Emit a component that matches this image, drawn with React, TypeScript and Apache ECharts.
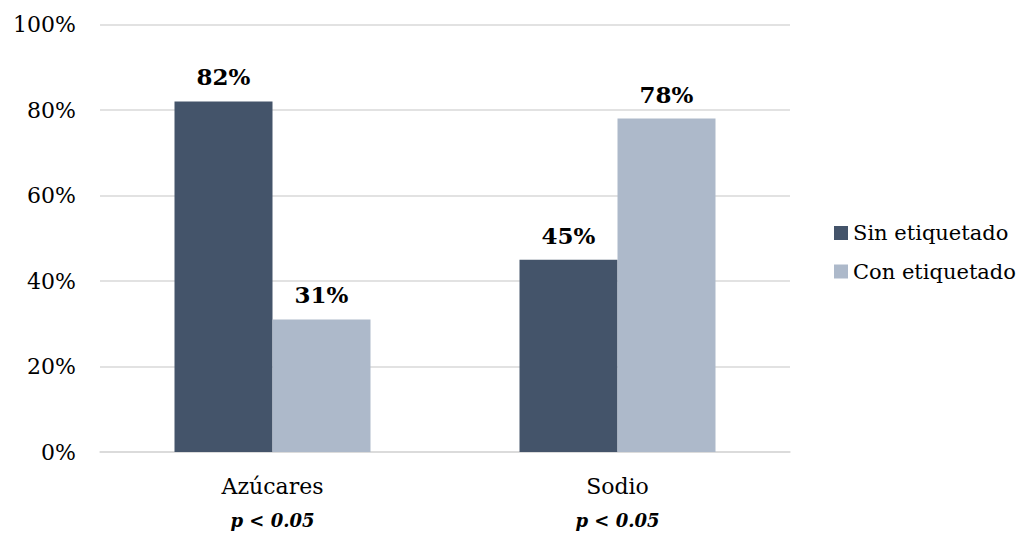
import React, { useEffect, useRef } from "react";
import * as echarts from "echarts";

const categories = ["Azúcares", "Sodio"];
const pLabels = ["p < 0.05", "p < 0.05"];
const seriesNames = ["Sin etiquetado", "Con etiquetado"];
const sinEtiquetado = [82, 45];
const conEtiquetado = [31, 78];
const yTicks = [0, 20, 40, 60, 80, 100];

const FONT = "DejaVu Serif";

export default function App() {
  const ref = useRef<HTMLDivElement>(null);
  useEffect(() => {
    if (!ref.current) return;
    const chart = echarts.init(ref.current, undefined, { renderer: "svg" });
    const labelStyle = {
      show: true,
      position: "top" as const,
      distance: 13,
      formatter: "{c}%",
      fontFamily: FONT,
      fontSize: 23,
      fontWeight: "bold" as const,
      color: "#000",
    };
    chart.setOption({
      animation: false,
      backgroundColor: "#fff",
      grid: { left: 100, right: 239, top: 24.5, bottom: 87, containLabel: false },
      legend: {
        orient: "vertical",
        left: 834,
        top: 222.5,
        padding: 0,
        itemWidth: 14,
        itemHeight: 14,
        itemGap: 17.5,
        icon: "rect",
        data: seriesNames,
        textStyle: { fontFamily: FONT, fontSize: 21, color: "#000" },
      },
      xAxis: {
        type: "category",
        data: categories.map((c, i) => `${c}\n${pLabels[i]}`),
        axisTick: { show: false },
        axisLine: { lineStyle: { color: "#D9D9D9", width: 1.5 } },
        axisLabel: {
          margin: 17,
          fontFamily: FONT,
          formatter: (v: string) => {
            const [a, b] = v.split("\n");
            return `{a|${a}}\n{p|${b}}`;
          },
          rich: {
            a: { fontFamily: FONT, fontSize: 22, color: "#000", lineHeight: 34 },
            p: {
              fontFamily: FONT,
              fontSize: 18,
              fontWeight: "bold",
              fontStyle: "italic",
              color: "#000",
              lineHeight: 34,
            },
          },
        },
      },
      yAxis: {
        type: "value",
        min: yTicks[0],
        max: yTicks[yTicks.length - 1],
        interval: 20,
        axisLine: { show: false },
        axisTick: { show: false },
        splitLine: { lineStyle: { color: "#D9D9D9", width: 1.5 } },
        axisLabel: {
          margin: 24,
          formatter: "{value}%",
          fontFamily: FONT,
          fontSize: 22,
          color: "#000",
        },
      },
      series: [
        {
          name: seriesNames[0],
          type: "bar",
          data: sinEtiquetado,
          barWidth: 98,
          barGap: "0%",
          itemStyle: { color: "#44546A" },
          label: labelStyle,
        },
        {
          name: seriesNames[1],
          type: "bar",
          data: conEtiquetado,
          barWidth: 98,
          barGap: "0%",
          itemStyle: { color: "#ADB9CA" },
          label: labelStyle,
        },
      ],
    });
    return () => chart.dispose();
  }, []);
  return (
    <div
      ref={ref}
      style={{ position: "fixed", left: 0, top: 0, width: 1029, height: 539 }}
    />
  );
}
